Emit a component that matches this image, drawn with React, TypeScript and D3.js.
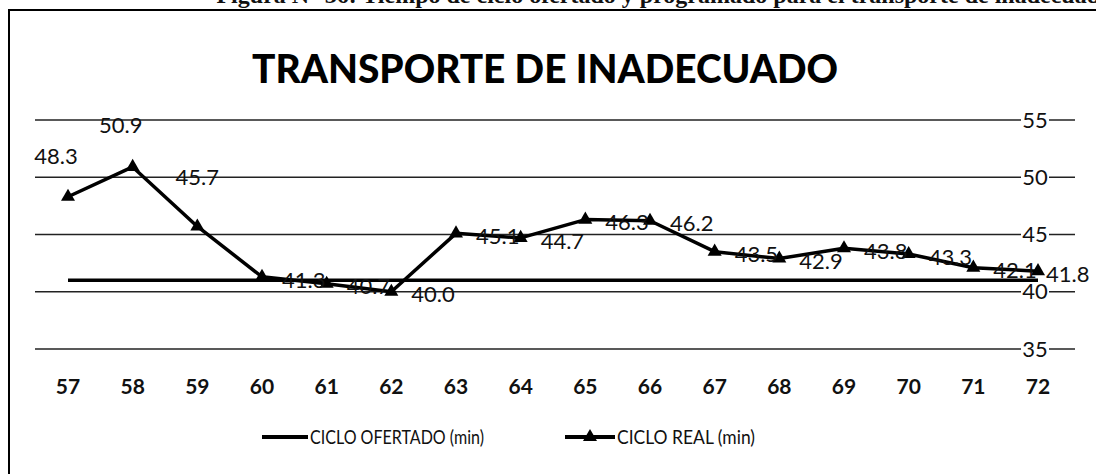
import React from "react";
import * as d3 from "d3";

const categories = ["57","58","59","60","61","62","63","64","65","66","67","68","69","70","71","72"];
const cicloReal = [48.3,50.9,45.7,41.3,40.7,40.0,45.1,44.7,46.3,46.2,43.5,42.9,43.8,43.3,42.1,41.8];
const cicloOfertado = [41,41,41,41,41,41,41,41,41,41,41,41,41,41,41,41];
const yTicks = [35,40,45,50,55];
const title = "TRANSPORTE DE INADECUADO";
const seriesNames = ["CICLO OFERTADO (min)", "CICLO REAL (min)"];
const caption = "Figura N° 36: Tiempo de ciclo ofertado y programado para el transporte de inadecuado";
// manual label placements (dragged labels in the original): [dx, dy, anchor] from the point
const labelMoves: Record<number, [number, number, string]> = {
  0: [-12, -40, "middle"],
  1: [-12, -42, "middle"],
  2: [0, -49, "middle"],
  15: [8, 3, "start"],
};

const W = 1096, H = 474;
const FONT = "Lato, 'Open Sans', sans-serif";

export default function App() {
  const x = d3.scalePoint<string>().domain(categories).range([68, 1038]);
  const y = d3.scaleLinear().domain([35, 55]).range([349, 120]);
  const line = d3.line<number>().x((_, i) => x(categories[i])!).y(d => y(d));
  const tri = d3.symbol().type(d3.symbolTriangle).size(85)();

  return (
    <svg width={W} height={H} style={{ position: "absolute", left: 0, top: 0, background: "#fff" }}>
      <rect x={0} y={0} width={W} height={H} fill="#fff" />
      {/* cut-off caption at top */}
      <text x={1112} y={3} textAnchor="end" fontFamily="'Liberation Serif', serif" fontWeight="bold" fontSize={24} fill="#111">{caption}</text>
      {/* frame */}
      <rect x={9} y={10} width={1100} height={480} fill="#fff" stroke="#000" strokeWidth={2} />
      {/* title */}
      <text x={545} y={83} textAnchor="middle" fontFamily={FONT} fontWeight="900" fontSize={40} textLength={586} lengthAdjust="spacingAndGlyphs" fill="#000">{title}</text>
      {/* gridlines */}
      {yTicks.map(t => (
        <g key={t}>
          <line x1={35} x2={1075} y1={y(t)} y2={y(t)} stroke="#222" strokeWidth={1.5} />
          <rect x={1021} y={y(t) - 9} width={28} height={18} fill="#fff" />
          <text x={1035} y={y(t)} dy="0.35em" textAnchor="middle" fontFamily={FONT} fontSize={22} fill="#111">{t}</text>
        </g>
      ))}
      {/* x labels */}
      {categories.map(c => (
        <text key={c} x={x(c)} y={394} textAnchor="middle" fontFamily={FONT} fontWeight="bold" fontSize={21} fill="#111">{c}</text>
      ))}
      {/* ofertado */}
      <path d={line(cicloOfertado)!} fill="none" stroke="#000" strokeWidth={3.5} />
      {/* real */}
      <path d={line(cicloReal)!} fill="none" stroke="#000" strokeWidth={3.5} strokeLinejoin="round" />
      {cicloReal.map((v, i) => (
        <path key={i} d={tri!} transform={`translate(${x(categories[i])},${y(v)})`} fill="#000" />
      ))}
      {/* data labels */}
      {cicloReal.map((v, i) => {
        const px = x(categories[i])!, py = y(v);
        const mv = labelMoves[i] || [20, 3, "start"];
        return <text key={i} x={px + mv[0]} y={py + mv[1]} dy="0.35em" textAnchor={mv[2]} fontFamily={FONT} fontSize={22} fill="#111">{v.toFixed(1)}</text>;
      })}
      {/* legend */}
      <line x1={262} x2={308} y1={437} y2={437} stroke="#000" strokeWidth={4} />
      <text x={310} y={437} dy="0.35em" fontFamily={FONT} fontSize={19} textLength={174} lengthAdjust="spacingAndGlyphs" fill="#111">{seriesNames[0]}</text>
      <line x1={565} x2={615} y1={437} y2={437} stroke="#000" strokeWidth={4} />
      <path d={tri!} transform="translate(590,437)" fill="#000" />
      <text x={617} y={437} dy="0.35em" fontFamily={FONT} fontSize={19} textLength={138} lengthAdjust="spacingAndGlyphs" fill="#111">{seriesNames[1]}</text>
    </svg>
  );
}
